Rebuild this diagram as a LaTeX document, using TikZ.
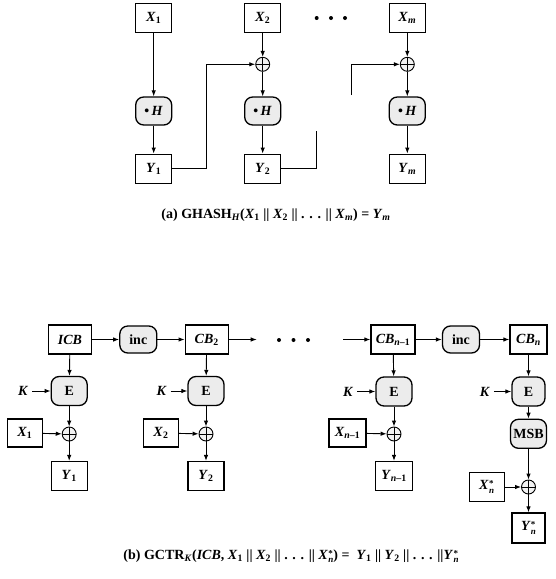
\documentclass[tikz,border=0pt]{standalone}
\usepackage{fontspec}
\setmainfont{Liberation Serif}
\usetikzlibrary{arrows.meta}

\newcommand{\vsub}[2]{\textit{#1}\textsubscript{#2}}
\newcommand{\vsubsup}[2]{\textit{#1}\kern0.3pt\raisebox{-3.2pt}{\fontsize{9}{7}\selectfont\shortstack[l]{*\\[-1pt]\textit{#2}}}}

\begin{document}
\begin{tikzpicture}[x=1pt,y=-1pt,
	font=\fontsize{14}{16}\selectfont\bfseries,
	line width=0.9pt,
	>={Latex[length=6pt,width=4.5pt]},
	blk/.style={draw, line width=1.3pt, inner sep=0pt, minimum width=36pt, minimum height=29pt},
	func/.style={draw, line width=1.3pt, fill=gray!15, rounded corners=8pt, inner sep=0pt, minimum width=36pt, minimum height=28pt},
	xor/.style={draw, circle, fill=gray!10, inner sep=0pt, minimum size=14pt,
		path picture={\draw (path picture bounding box.north) -- (path picture bounding box.south)
			(path picture bounding box.west) -- (path picture bounding box.east);}},
	dot/.style={fill, circle, inner sep=0pt, minimum size=4pt}]
	\useasboundingbox (0,0) rectangle (556,579);

	% (a) GHASH
	\node[blk] (x1) at (153.7,18) {\vsub{X}{1}};
	\node[blk] (x2) at (262.7,18) {\vsub{X}{2}};
	\node[blk] (xm) at (407.3,18) {\vsub{X}{\textit{m}}};
	\node[dot] (d1) at (316.7,18) {};
	\node[dot] (d2) at (331,18) {};
	\node[dot] (d3) at (345,18) {};
	\node[xor] (s2) at (262.7,64.3) {};
	\node[xor] (sm) at (407.3,64.3) {};
	\node[func] (h1) at (153.7,111) {\textbullet\,\textit{H}};
	\node[func] (h2) at (262.7,111) {\textbullet\,\textit{H}};
	\node[func] (hm) at (407.3,111) {\textbullet\,\textit{H}};
	\node[blk] (y1) at (153.7,168.7) {\vsub{Y}{1}};
	\node[blk] (y2) at (262.7,168.7) {\vsub{Y}{2}};
	\node[blk] (ym) at (407.3,168.7) {\vsub{Y}{\textit{m}}};
	\coordinate (c1) at (316.7,131);
	\coordinate (c2) at (351.7,95);

	\draw[->] (x1) -- (h1);
	\draw[->] (h1) -- (y1);
	\draw[->] (x2) -- (s2);
	\draw[->] (s2) -- (h2);
	\draw[->] (h2) -- (y2);
	\draw[->] (xm) -- (sm);
	\draw[->] (sm) -- (hm);
	\draw[->] (hm) -- (ym);
	\draw[->] (y1.east) -- (206.7,168.7) |- (s2);
	\draw (y2.east) -| (c1);
	\draw[->] (c2) |- (sm);

	\node (capa) at (276,215) {(a) GHASH\textsubscript{\textit{H}}(\vsub{X}{1} || \vsub{X}{2} || . . . || \vsub{X}{\textit{m}}) = \vsub{Y}{\textit{m}}};

	% (b) GCTR
	\node[blk, minimum width=43pt] (icb) at (70,339.5) {\textit{ICB}};
	\node[func, minimum width=37pt, minimum height=27pt] (inc1) at (138.3,339.5) {inc};
	\node[blk, minimum width=43pt] (cb2) at (206.7,339.5) {\vsub{CB}{2}};
	\coordinate (r2) at (256.7,339.5);
	\node[dot] (e1) at (279,340) {};
	\node[dot] (e2) at (293.5,340) {};
	\node[dot] (e3) at (308,340) {};
	\coordinate (l3) at (343.3,339.5);
	\node[blk, minimum width=44pt] (cbn1) at (393,339.5) {\vsub{CB}{\textit{n}–1}};
	\node[func, minimum width=37pt, minimum height=27pt] (inc2) at (461,339.5) {inc};
	\node[blk, minimum width=37pt] (cbn) at (528.5,339.5) {\vsub{CB}{\textit{n}}};

	\node[func, minimum height=29pt] (enc1) at (69.2,391) {E};
	\node[func, minimum height=29pt] (enc2) at (206,391) {E};
	\node[func, minimum height=29pt] (enc3) at (394,391.5) {E};
	\node[func, minimum width=33pt, minimum height=29pt] (enc4) at (528.5,391.5) {E};
	\node (k1) at (23.3,391) {\textit{K}};
	\node (k2) at (161.7,391) {\textit{K}};
	\node (k3) at (348.3,391.5) {\textit{K}};
	\node (k4) at (485,391.5) {\textit{K}};

	\node[blk, minimum width=35pt, minimum height=28pt] (p1) at (24.8,433) {\vsub{X}{1}};
	\node[blk, minimum width=35pt, minimum height=28pt] (p2) at (161,433) {\vsub{X}{2}};
	\node[blk, minimum width=37pt, minimum height=28pt] (p3) at (347.5,433) {\vsub{X}{\textit{n}–1}};
	\node[func, minimum width=36pt, minimum height=29pt] (msb) at (528.5,433.8) {MSB};
	\node[blk, minimum width=35pt] (p4) at (486.7,487) {\vsubsup{X}{n}};

	\node[xor] (t1) at (69.2,434) {};
	\node[xor] (t2) at (206,434) {};
	\node[xor] (t3) at (394,434) {};
	\node[xor] (t4) at (528.5,487) {};

	\node[blk] (q1) at (69.2,476) {\vsub{Y}{1}};
	\node[blk] (q2) at (206,476) {\vsub{Y}{2}};
	\node[blk, minimum width=37pt] (q3) at (394,476) {\vsub{Y}{\textit{n}–1}};
	\node[blk, minimum width=33pt, minimum height=30pt] (q4) at (528.5,528) {\vsubsup{Y}{n}};

	\draw[->] (icb) -- (inc1);
	\draw[->] (inc1) -- (cb2);
	\draw[->] (cb2) -- (r2);
	\draw[->] (l3) -- (cbn1);
	\draw[->] (cbn1) -- (inc2);
	\draw[->] (inc2) -- (cbn);
	\draw[->] (icb) -- (enc1);
	\draw[->] (cb2) -- (enc2);
	\draw[->] (cbn1) -- (enc3);
	\draw[->] (cbn) -- (enc4);
	\draw[->] (k1) -- (enc1);
	\draw[->] (k2) -- (enc2);
	\draw[->] (k3) -- (enc3);
	\draw[->] (k4) -- (enc4);
	\draw[->] (enc1) -- (t1);
	\draw[->] (enc2) -- (t2);
	\draw[->] (enc3) -- (t3);
	\draw[->] (enc4) -- (msb);
	\draw[->] (msb) -- (t4);
	\draw[->] (p1) -- (t1);
	\draw[->] (p2) -- (t2);
	\draw[->] (p3) -- (t3);
	\draw[->] (p4) -- (t4);
	\draw[->] (t1) -- (q1);
	\draw[->] (t2) -- (q2);
	\draw[->] (t3) -- (q3);
	\draw[->] (t4) -- (q4);

	\node (capb) at (291,556) {(b) GCTR\textsubscript{\textit{K}}(\textit{ICB}, \vsub{X}{1} || \vsub{X}{2} || . . . || \vsubsup{X}{n}) =\ \ \vsub{Y}{1} || \vsub{Y}{2} || . . . ||\vsubsup{Y}{n}};
\end{tikzpicture}
\end{document}
